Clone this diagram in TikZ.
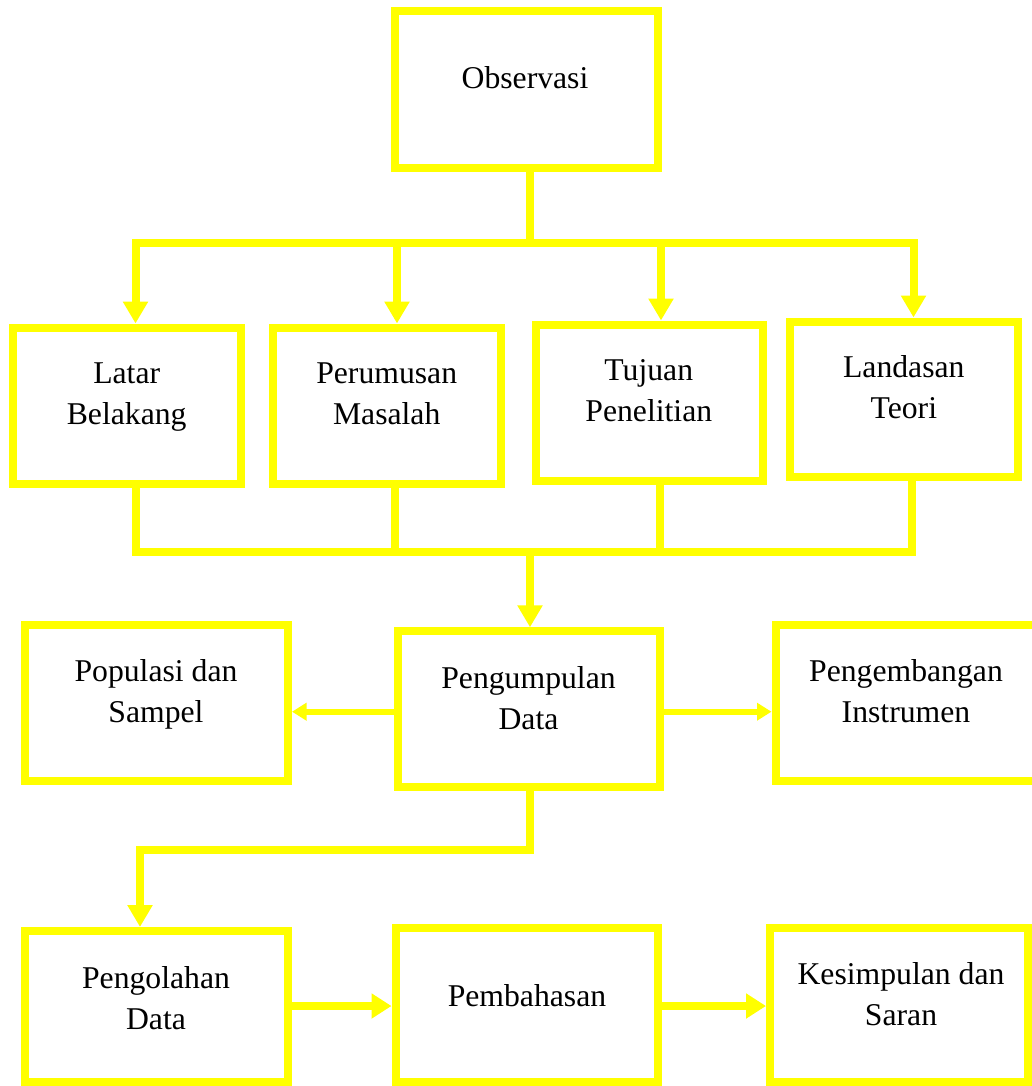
\documentclass[tikz,border=0pt]{standalone}
\usepackage{fontspec}
\setmainfont{Liberation Serif}
\usetikzlibrary{arrows.meta}
\definecolor{ylw}{HTML}{FFFF00}
\begin{document}
\begin{tikzpicture}[x=1pt,y=-1pt,
  box/.style={draw=ylw, line width=8pt, inner sep=0pt},
  lbl/.style={anchor=base, align=center, inner sep=0pt, text=black, font=\fontsize{31.7pt}{41pt}\selectfont},
  conn/.style={draw=ylw, line width=8pt},
  arr/.style={conn, -{Triangle[length=22pt,width=24pt]}},
  harr/.style={conn, -{Triangle[length=20pt,width=24pt]}},
  marr/.style={draw=ylw, line width=6pt, -{Triangle[length=14.5pt,width=17pt]}}
]
\useasboundingbox (0,0) rectangle (1032,1086);
\fill[white] (0,0) rectangle (1032,1086);
\clip (0,0) rectangle (1032,1086);

% boxes
\node[box, minimum width=263pt, minimum height=156.5pt] (obs) at (526.5,89.75) {};
\node[box, minimum width=228.5pt, minimum height=156.5pt] (lb) at (126.75,405.75) {};
\node[box, minimum width=227.5pt, minimum height=156.5pt] (pm) at (386.75,405.75) {};
\node[box, minimum width=227.5pt, minimum height=156pt] (tp) at (649.25,402.5) {};
\node[box, minimum width=227.5pt, minimum height=155.5pt] (lt) at (903.75,399.25) {};
\node[box, minimum width=263pt, minimum height=156pt] (ps) at (156.5,703) {};
\node[box, minimum width=262pt, minimum height=155.4pt] (pk) at (528.9,709) {};
\node[box, minimum width=261pt, minimum height=155.5pt] (pe) at (906,702.75) {};
\node[box, minimum width=263pt, minimum height=150.5pt] (po) at (156.5,1006.25) {};
\node[box, minimum width=262.5pt, minimum height=153.5pt] (pb) at (526.75,1004.75) {};
\node[box, minimum width=258pt, minimum height=153.5pt] (ks) at (899,1004.75) {};

% texts (anchor base = baseline of the last line)
\node[lbl] (obst) at (525,89) {Observasi};
\node[lbl] (lbt) at (126.7,424.3) {Latar\\Belakang};
\node[lbl] (pmt) at (386.7,424.3) {Perumusan\\Masalah};
\node[lbl] (tpt) at (648.8,421) {Tujuan\\Penelitian};
\node[lbl] (ltt) at (903.8,418.3) {Landasan\\Teori};
\node[lbl] (pst) at (156,722.7) {Populasi dan\\Sampel};
\node[lbl] (pkt) at (528.5,729) {Pengumpulan\\Data};
\node[lbl] (pet) at (906,722.7) {Pengembangan\\Instrumen};
\node[lbl] (pot) at (156,1029) {Pengolahan\\Data};
\node[lbl] (pbt) at (527,1006) {Pembahasan};
\node[lbl] (kst) at (901,1025) {Kesimpulan dan\\Saran};

% top distribution
\coordinate (jt) at (530,243);
\coordinate (tl) at (135.5,243);
\coordinate (t2) at (397,243);
\coordinate (t3) at (661,243);
\coordinate (tr) at (913.5,243);
\draw[conn] (obs.south -| jt) -- (jt);
\draw[conn, line cap=rect] (tl) -- (tr);
\draw[arr] (tl) -- (lb.north -| tl);
\draw[arr] (t2) -- (pm.north -| t2);
\draw[arr] (t3) -- (tp.north -| t3);
\draw[arr] (tr) -- (lt.north -| tr);

% merge
\coordinate (bl) at (135.5,552);
\coordinate (b2) at (395,552);
\coordinate (b3) at (660,552);
\coordinate (br) at (912,552);
\coordinate (jm) at (530,552);
\draw[conn] (lb.south -| bl) -- (bl);
\draw[conn] (pm.south -| b2) -- (b2);
\draw[conn] (tp.south -| b3) -- (b3);
\draw[conn] (lt.south -| br) -- (br);
\draw[conn, line cap=rect] (bl) -- (br);
\draw[arr] (jm) -- (pk.north -| jm);

% middle row
\coordinate (my) at (0,711.7);
\draw[marr] (pk.west |- my) -- (ps.east |- my);
\draw[marr] (pk.east |- my) -- (pe.west |- my);

% down to processing
\coordinate (jd) at (530,850);
\coordinate (dl) at (140,850);
\draw[arr] (pk.south -| jd) -- (jd) -- (dl) -- (po.north -| dl);

% bottom row
\coordinate (by) at (0,1006);
\draw[harr] (po.east |- by) -- (pb.west |- by);
\draw[harr] (pb.east |- by) -- (ks.west |- by);
\end{tikzpicture}
\end{document}
